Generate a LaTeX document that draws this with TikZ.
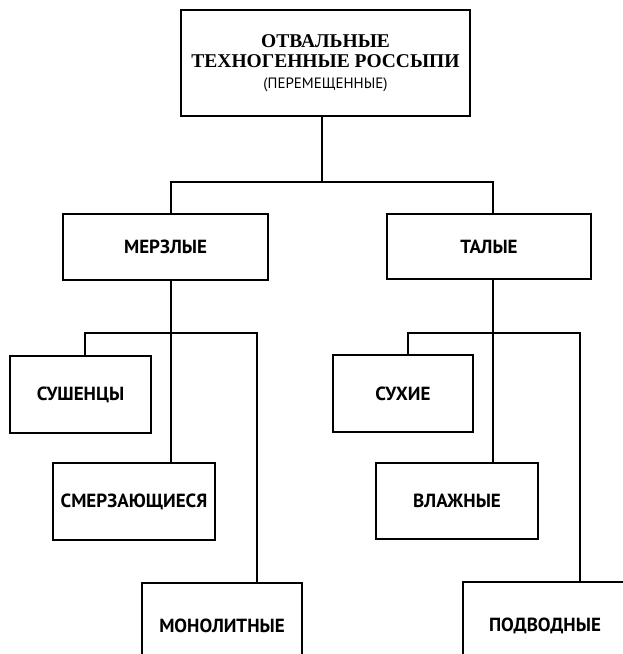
\documentclass[tikz,border=0pt]{standalone}
\usepackage{fontspec}
\setmainfont{Liberation Serif}
\setsansfont{PT Sans}
\usetikzlibrary{positioning}

\begin{document}
\begin{tikzpicture}
  [x=1pt, y=-1pt, line width=1.4pt,
   box/.style={rectangle, draw, line width=1.4pt, inner sep=0pt,
     font=\sffamily\bfseries\fontsize{19}{22}\selectfont},
   head/.style={box, align=center,
     font=\rmfamily\bfseries\fontsize{19.5}{20.5}\selectfont}]
  \useasboundingbox (0,0) rectangle (623,654);
  % top of the tree
  \node (top) at (325.5,63) [head, minimum width=289pt, minimum height=106pt]
    {ОТВАЛЬНЫЕ\\ ТЕХНОГЕННЫЕ РОССЫПИ\\
     {\sffamily\mdseries\fontsize{15}{18}\selectfont (ПЕРЕМЕЩЕННЫЕ)}};
  \node (merz) at (165.5,247) [box, minimum width=205pt, minimum height=66pt] {МЕРЗЛЫЕ};
  \node (tal) at (489,246.5) [box, minimum width=204pt, minimum height=65pt] {ТАЛЫЕ};
  % left branch
  \node (sush) at (80.5,394.5) [box, minimum width=141pt, minimum height=77pt] {СУШЕНЦЫ};
  \node (smerz) at (134,501.5) [box, minimum width=162pt, minimum height=77pt] {СМЕРЗАЮЩИЕСЯ};
  \node (monol) at (222,626) [box, minimum width=160pt, minimum height=86pt] {МОНОЛИТНЫЕ};
  % right branch
  \node (sukh) at (403,393.5) [box, minimum width=140pt, minimum height=77pt] {СУХИЕ};
  \node (vlazh) at (457,501) [box, minimum width=162pt, minimum height=76pt] {ВЛАЖНЫЕ};
  \node (podv) at (545,626) [box, minimum width=164pt, minimum height=88pt] {ПОДВОДНЫЕ};

  \coordinate (j0) at (322,182);
  \coordinate (jl) at (171,333);
  \coordinate (jr) at (493,333);
  \coordinate (ls) at (85,333);
  \coordinate (lr) at (257,333);
  \coordinate (rs) at (408,333);
  \coordinate (rr) at (580,333);

  \draw (top.south -| j0) -- (j0);
  \draw (merz.north -| jl) |- (j0) -| (tal.north -| jr);
  \draw (merz.south -| jl) -- (jl);
  \draw (tal.south -| jr) -- (jr);
  \draw (sush.north -| ls) -- (ls) -- (lr) -- (monol.north -| lr);
  \draw (jl) -- (smerz.north -| jl);
  \draw (sukh.north -| rs) -- (rs) -- (rr) -- (podv.north -| rr);
  \draw (jr) -- (vlazh.north -| jr);
\end{tikzpicture}
\end{document}
